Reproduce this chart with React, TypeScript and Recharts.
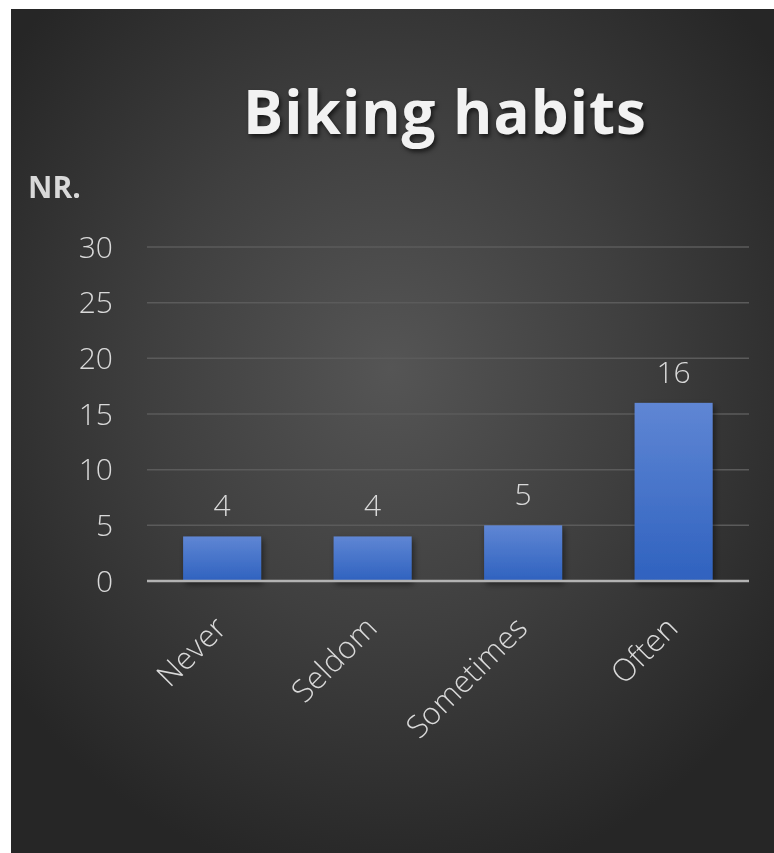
import React from "react";
import { BarChart, Bar, XAxis, YAxis, CartesianGrid, LabelList } from "recharts";

const categories = ["Never", "Seldom", "Sometimes", "Often"];
const counts = [4, 4, 5, 16];
const yTicks = [0, 5, 10, 15, 20, 25, 30];
const titleText = "Biking habits";
const yLabelText = "NR.";

const data = categories.map((c, i) => ({ name: c, value: counts[i] }));

const FONT = "'Open Sans', 'Noto Sans', sans-serif";

const XTick = (props: any) => {
  const { x, y, payload } = props;
  return (
    <g transform={`translate(${x + 6},${y + 41})`}>
      <text
        x={0}
        y={0}
        textAnchor="end"
        transform="rotate(-45)"
        fill="#d9d9d9"
        fontSize={31}
        fontWeight={300}
        fontFamily={FONT}
      >
        {payload.value}
      </text>
    </g>
  );
};

const BarShape = (props: any) => {
  const { x, y, width, height } = props;
  return (
    <rect
      x={x}
      y={y}
      width={width}
      height={height}
      fill="url(#barGrad)"
      filter="url(#barShadow)"
    />
  );
};

export default function App() {
  return (
    <div
      style={{
        position: "fixed",
        left: 11,
        top: 9,
        width: 763,
        height: 844,
        background:
          "radial-gradient(ellipse 480px 520px at 380px 360px, #555555 0%, #3f3f3f 50%, #262626 100%)",
        overflow: "hidden",
        fontFamily: FONT,
      }}
    >
      <div
        style={{
          position: "absolute",
          left: 0,
          width: 868,
          top: 62,
          textAlign: "center",
          fontSize: 60,
          fontWeight: 700,
          color: "#f2f2f2",
          letterSpacing: 1,
          textShadow: "2px 3px 4px rgba(0,0,0,0.6)",
          lineHeight: "80px",
        }}
      >
        {titleText}
      </div>
      <div
        style={{
          position: "absolute",
          left: 17,
          top: 158,
          fontSize: 30,
          fontWeight: 700,
          color: "#d9d9d9",
          lineHeight: "40px",
        }}
      >
        {yLabelText}
      </div>
      <div style={{ position: "absolute", left: 0, top: 0 }}>
        <BarChart
          width={763}
          height={844}
          data={data}
          margin={{ top: 238, right: 25, left: 56, bottom: 172 }}
          barCategoryGap="24%"
        >
          <defs>
            <linearGradient id="barGrad" x1="0" y1="0" x2="0" y2="1">
              <stop offset="0%" stopColor="#5f86d4" />
              <stop offset="100%" stopColor="#2f62bf" />
            </linearGradient>
            <filter id="barShadow" x="-20%" y="-20%" width="140%" height="140%">
              <feDropShadow dx="2" dy="3" stdDeviation="3" floodColor="#000" floodOpacity="0.5" />
            </filter>
          </defs>
          <CartesianGrid vertical={false} stroke="#5b5b5b" strokeWidth={1.5} />
          <YAxis
            width={80}
            domain={[0, 30]}
            ticks={yTicks}
            axisLine={false}
            tickLine={false}
            tickSize={0}
            tickMargin={34}
            tick={{ fill: "#d9d9d9", fontSize: 30, fontWeight: 300, fontFamily: FONT }}
          />
          <Bar dataKey="value" isAnimationActive={false} shape={<BarShape />}>
            <LabelList
              dataKey="value"
              position="top"
              offset={20}
              fill="#d9d9d9"
              fontSize={30}
              fontWeight={300}
              fontFamily={FONT}
            />
          </Bar>
          <XAxis
            dataKey="name"
            height={100}
            axisLine={{ stroke: "#b3b3b3", strokeWidth: 2.5 }}
            tickLine={false}
            interval={0}
            tick={<XTick />}
          />
        </BarChart>
      </div>
    </div>
  );
}
